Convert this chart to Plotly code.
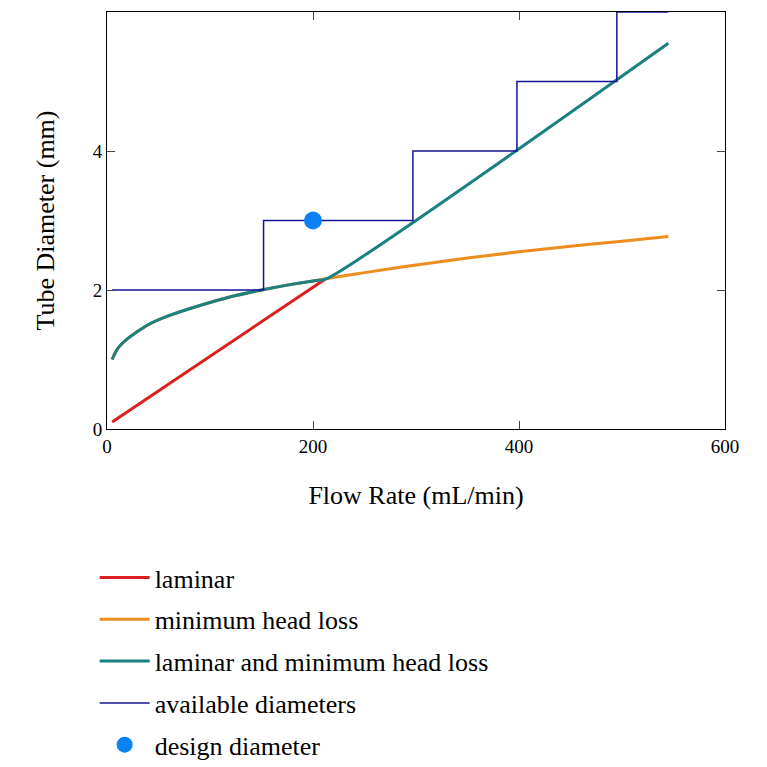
import plotly.graph_objects as go

# laminar line (endpoints)
lam_q = [5, 212]
lam_d = [0.1, 2.16]

# minimum head loss curve
mh_q = [5, 10, 20, 40, 60, 80, 100, 125, 150, 175, 200, 215, 250, 300, 350, 400, 450, 500, 545]
mh_d = [1.0, 1.15, 1.3, 1.5, 1.63, 1.73, 1.82, 1.92, 2.0, 2.07, 2.13, 2.17, 2.25, 2.36, 2.46, 2.55, 2.63, 2.7, 2.77]

# laminar and minimum head loss (larger of the two)
comb_q = [5, 10, 20, 40, 60, 80, 100, 125, 150, 175, 200, 213, 545]
comb_d = [1.0, 1.15, 1.3, 1.5, 1.63, 1.73, 1.82, 1.92, 2.0, 2.07, 2.13, 2.16, 5.55]

# available diameters (step)
avail_q = [5, 152, 297, 398, 495, 545]
avail_d = [2, 3, 4, 5, 6, 6]

design_q = [200]
design_d = [3]

fig = go.Figure()
fig.add_trace(go.Scatter(x=lam_q, y=lam_d, mode="lines", name="laminar", legendgroup="a",
                         line=dict(color="#dc1e1e", width=3)))
fig.add_trace(go.Scatter(x=mh_q, y=mh_d, mode="lines", name="minimum head loss", legendgroup="b",
                         line=dict(color="#ee8c1e", width=3, shape="spline")))
fig.add_trace(go.Scatter(x=comb_q, y=comb_d, mode="lines", name="laminar and minimum head loss",
                         legendgroup="c",
                         line=dict(color="#1a8080", width=3, shape="spline", smoothing=0.6)))
fig.add_trace(go.Scatter(x=avail_q, y=avail_d, mode="lines", name="available diameters",
                         legendgroup="d",
                         line=dict(color="#141496", width=1.5, shape="hv")))
fig.add_trace(go.Scatter(x=design_q, y=design_d, mode="markers", name="design diameter",
                         legendgroup="e",
                         marker=dict(color="#0a82f5", size=18)))

font = "Liberation Serif, Times New Roman, serif"
fig.update_layout(
    width=767, height=767,
    margin=dict(l=99, r=50, t=4, b=346),
    plot_bgcolor="white", paper_bgcolor="white",
    font=dict(family=font, color="black", size=19),
    legend=dict(x=-0.02, y=-0.3, xanchor="left", yanchor="top",
                font=dict(size=26, family=font), tracegroupgap=5,
                itemwidth=50),
    xaxis=dict(range=[0, 600], tickvals=[0, 200, 400, 600], showgrid=False,
               zeroline=False, showline=True, linecolor="black", mirror="ticks",
               ticks="inside", ticklen=8,
               title=dict(text="Flow Rate (mL/min)", font=dict(size=26), standoff=30)),
    yaxis=dict(range=[0, 6], tickvals=[0, 2, 4, 6], showgrid=False,
               zeroline=False, showline=True, linecolor="black", mirror="ticks",
               ticks="inside", ticklen=8,
               title=dict(text="Tube Diameter (mm)", font=dict(size=26), standoff=30)),
)

fig.write_html("out.html")
